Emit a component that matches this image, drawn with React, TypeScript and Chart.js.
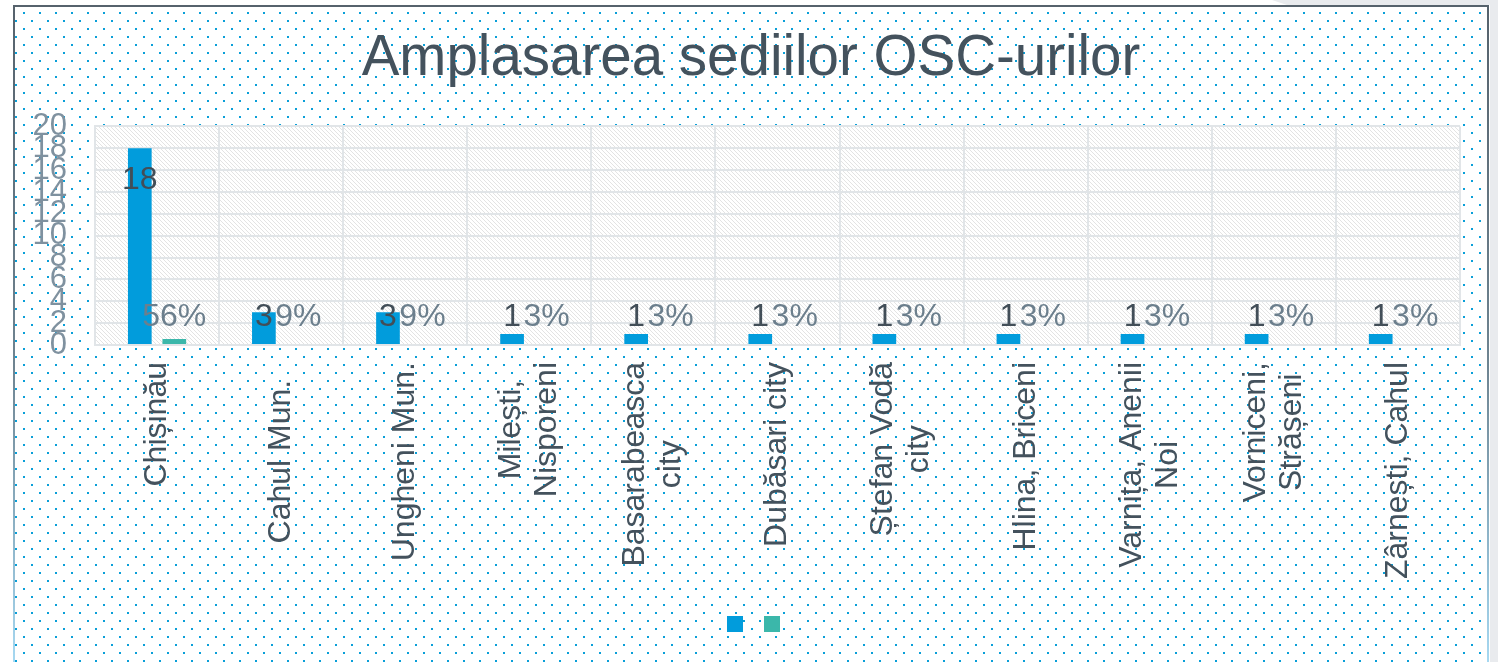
import React, { useEffect, useRef } from 'react';
import { Chart, registerables } from 'chart.js';

Chart.register(...registerables);

const FONT = "'Liberation Sans', Arial, Helvetica, sans-serif";

const TITLE = 'Amplasarea sediilor OSC-urilor';

const categoryLines: string[][] = [
  ['Chișinău'],
  ['Cahul Mun.  '],
  ['Ungheni Mun.'],
  ['Milești,', 'Nisporeni'],
  ['Basarabeasca', 'city'],
  ['Dubăsari city'],
  ['Ștefan Vodă', 'city'],
  ['Hlina, Briceni'],
  ['Varnița, Anenii', 'Noi'],
  ['Vorniceni,', 'Strășeni'],
  ['Zârnești, Cahul'],
];

const counts = [18, 3, 3, 1, 1, 1, 1, 1, 1, 1, 1];
const shares = [0.56, 0.09, 0.09, 0.03, 0.03, 0.03, 0.03, 0.03, 0.03, 0.03, 0.03];

const yMin = 0;
const yMax = 20;
const yStep = 2;

const BLUE = '#019cdc';
const TEAL = '#3bb7aa';

const W = 1498;
const H = 662;

// frame of the chart object
const FRAME_LEFT = 13;
const FRAME_RIGHT = 1489;
const FRAME_TOP = 5;

const bgPlugin = {
  id: 'bgPlugin',
  beforeDraw(chart: any) {
    const { ctx, width, height, chartArea: ca } = chart;
    ctx.save();
    ctx.fillStyle = '#ffffff';
    ctx.fillRect(0, 0, width, height);

    // page grey on the right
    ctx.fillStyle = '#e9ebee';
    ctx.beginPath();
    ctx.moveTo(1272, 0);
    ctx.lineTo(width, 0);
    ctx.lineTo(width, height);
    ctx.lineTo(FRAME_RIGHT + 1, height);
    ctx.lineTo(FRAME_RIGHT + 1, FRAME_TOP);
    ctx.lineTo(1287, FRAME_TOP);
    ctx.closePath();
    ctx.fill();

    // dotted pattern
    const tile = document.createElement('canvas');
    tile.width = 16;
    tile.height = 16;
    const t = tile.getContext('2d')!;
    t.fillStyle = '#0a9fd8';
    t.fillRect(0, 0, 2, 2);
    t.fillRect(8, 8, 2, 2);
    const pat = ctx.createPattern(tile, 'repeat');
    ctx.save();
    ctx.translate(7, 12);
    ctx.fillStyle = pat;
    ctx.fillRect(FRAME_LEFT + 2 - 7, FRAME_TOP + 2 - 12, FRAME_RIGHT - FRAME_LEFT - 4, height);
    ctx.restore();

    // plot area: white + hatch
    ctx.fillStyle = '#ffffff';
    ctx.fillRect(ca.left, ca.top, ca.right - ca.left, ca.bottom - ca.top);
    const htile = document.createElement('canvas');
    htile.width = 4;
    htile.height = 4;
    const h = htile.getContext('2d')!;
    h.fillStyle = '#e3e3e3';
    for (let i = 0; i < 4; i++) h.fillRect(i, i, 1, 1);
    const hpat = ctx.createPattern(htile, 'repeat');
    ctx.fillStyle = hpat;
    ctx.fillRect(ca.left, ca.top, ca.right - ca.left, ca.bottom - ca.top);

    // frame
    const grad = ctx.createLinearGradient(0, FRAME_TOP, 0, height);
    grad.addColorStop(0, '#56626c');
    grad.addColorStop(0.55, '#6f8491');
    grad.addColorStop(1, '#a6d8f1');
    ctx.fillStyle = '#56626c';
    ctx.fillRect(FRAME_LEFT, FRAME_TOP, FRAME_RIGHT - FRAME_LEFT, 2);
    ctx.fillStyle = grad;
    ctx.fillRect(FRAME_LEFT, FRAME_TOP, 2, height - FRAME_TOP);
    ctx.fillRect(FRAME_RIGHT - 2, FRAME_TOP, 2, height - FRAME_TOP);

    // title, centred in the frame
    ctx.font = `56.5px ${FONT}`;
    ctx.fillStyle = '#44525d';
    ctx.textAlign = 'center';
    ctx.textBaseline = 'middle';
    ctx.fillText(TITLE, (FRAME_LEFT + FRAME_RIGHT) / 2, 59);
    ctx.restore();
  },
};

const valueLabelPlugin = {
  id: 'valueLabelPlugin',
  afterDatasetsDraw(chart: any) {
    const ctx = chart.ctx;
    ctx.save();
    ctx.font = `32px ${FONT}`;
    ctx.textAlign = 'center';
    ctx.textBaseline = 'middle';
    const m1 = chart.getDatasetMeta(1);
    m1.data.forEach((bar: any, i: number) => {
      ctx.fillStyle = '#6c7f8d';
      ctx.fillText(Math.round(shares[i] * 100) + '%', bar.x, bar.base - 27);
    });
    const m0 = chart.getDatasetMeta(0);
    m0.data.forEach((bar: any, i: number) => {
      ctx.fillStyle = '#424e58';
      ctx.fillText(String(counts[i]), bar.x, Math.min(bar.y + 32, bar.base - 27));
    });
    ctx.restore();
  },
};

const xLabelPlugin = {
  id: 'xLabelPlugin',
  afterDraw(chart: any) {
    const ctx = chart.ctx;
    const xs = chart.scales.x;
    const top = chart.chartArea.bottom + 17;
    const lh = 36;
    ctx.save();
    ctx.font = `32px ${FONT}`;
    ctx.fillStyle = '#44525d';
    ctx.textAlign = 'right';
    ctx.textBaseline = 'middle';
    categoryLines.forEach((lines, i) => {
      const cx = xs.getPixelForValue(i);
      const widths = lines.map((l) => ctx.measureText(l).width);
      const maxW = Math.max(...widths);
      ctx.save();
      ctx.translate(cx, top);
      ctx.rotate(-Math.PI / 2);
      lines.forEach((l, k) => {
        const off = (k - (lines.length - 1) / 2) * lh;
        ctx.fillText(l, -(maxW - widths[k]) / 2, off);
      });
      ctx.restore();
    });
    ctx.restore();
  },
};

export default function App() {
  const ref = useRef<HTMLCanvasElement | null>(null);

  useEffect(() => {
    document.body.style.margin = '0';
    const canvas = ref.current!;
    const chart = new Chart(canvas, {
      type: 'bar',
      data: {
        labels: categoryLines.map((l) => l.join(' ').trim()),
        datasets: [
          {
            label: '',
            data: counts,
            backgroundColor: BLUE,
            borderWidth: 0,
            categoryPercentage: 0.556,
            barPercentage: 0.687,
            yAxisID: 'y',
          },
          {
            label: '',
            data: shares,
            backgroundColor: TEAL,
            borderWidth: 0,
            categoryPercentage: 0.556,
            barPercentage: 0.687,
            yAxisID: 'y',
          },
        ],
      },
      options: {
        responsive: false,
        animation: false,
        devicePixelRatio: 1,
        events: [],
        layout: { padding: { left: 32, right: 15, top: 126.4, bottom: 20 } },
        plugins: {
          tooltip: { enabled: false },
          title: { display: false },
          legend: {
            display: true,
            position: 'bottom',
            labels: {
              boxWidth: 16,
              boxHeight: 16,
              padding: 13,
              font: { size: 16, family: FONT },
            },
          },
        },
        scales: {
          x: {
            grid: { color: '#e1e5e8', lineWidth: 2, drawTicks: false, offset: true },
            border: { display: true, color: '#e1e5e8', width: 2, z: 1 },
            ticks: { display: false },
            afterFit: (s: any) => {
              s.height = 258;
            },
          },
          y: {
            min: yMin,
            max: yMax,
            grid: { color: '#e1e5e8', lineWidth: 2, drawTicks: false },
            border: { display: true, color: '#e1e5e8', width: 2 },
            ticks: {
              stepSize: yStep,
              autoSkip: false,
              padding: 28,
              color: '#7f919f',
              font: { size: 31, family: FONT },
            },
            afterFit: (s: any) => {
              s.width = 63;
            },
          },
          yRight: {
            type: 'linear',
            position: 'right',
            display: true,
            grid: { display: false, drawTicks: false },
            border: { display: false },
            ticks: { display: false },
            afterFit: (s: any) => {
              s.width = 23;
            },
          },
        },
      },
      plugins: [bgPlugin, valueLabelPlugin, xLabelPlugin],
    } as any);
    return () => chart.destroy();
  }, []);

  return (
    <div style={{ width: W, height: H, position: 'relative' }}>
      <canvas ref={ref} width={W} height={H} style={{ display: 'block', width: W, height: H }} />
    </div>
  );
}
